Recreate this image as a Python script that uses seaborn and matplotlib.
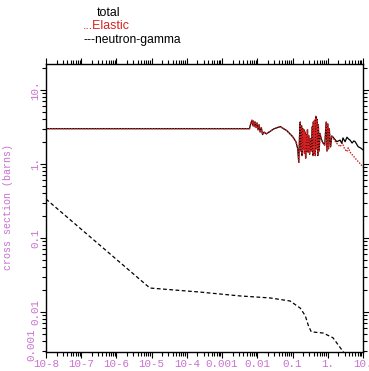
import numpy as np
import pandas as pd
import matplotlib
matplotlib.use("Agg")
import matplotlib.pyplot as plt
import matplotlib.ticker as mticker
import seaborn as sns

# ---------------- data (MeV, barns) ----------------
energy_common = [1e-8, 6.0e-3, 6.5e-3, 7.0e-3, 7.4e-3, 7.8e-3, 8.2e-3, 8.7e-3, 9.2e-3, 9.8e-3,
                 1.05e-2, 1.12e-2, 1.2e-2, 1.3e-2, 1.4e-2, 1.55e-2, 1.8e-2, 3.0e-2, 4.5e-2, 7.0e-2,
                 1.0e-1, 1.25e-1, 1.4e-1, 1.5e-1, 1.58e-1, 1.65e-1, 1.72e-1, 1.8e-1, 1.87e-1, 1.95e-1,
                 2.02e-1, 2.1e-1, 2.18e-1, 2.26e-1, 2.35e-1, 2.45e-1, 2.55e-1, 2.65e-1, 2.75e-1, 2.9e-1,
                 3.05e-1, 3.2e-1, 3.4e-1, 3.6e-1, 3.75e-1, 3.9e-1, 4.05e-1, 4.2e-1, 4.4e-1, 4.6e-1,
                 4.8e-1, 5.0e-1, 5.2e-1, 5.4e-1, 5.7e-1, 6.0e-1, 6.5e-1, 7.0e-1, 7.5e-1, 8.2e-1,
                 9.0e-1, 9.5e-1, 1.0, 1.05, 1.1, 1.2, 1.3]
xs_common = [3.0, 3.0, 3.5, 3.9, 3.3, 3.8, 3.2, 3.7, 3.1, 3.6,
             2.9, 3.4, 2.7, 3.1, 2.5, 2.7, 2.55, 3.0, 3.2, 2.8,
             2.35, 2.0, 1.6, 1.05, 2.4, 3.7, 1.5, 3.3, 1.3, 3.0,
             1.6, 2.9, 1.4, 2.7, 1.2, 2.5, 1.5, 2.9, 1.45, 2.4,
             1.35, 2.2, 1.5, 3.2, 1.3, 3.7, 1.4, 3.9, 1.3, 4.4,
             1.6, 4.0, 1.3, 3.4, 1.5, 2.6, 2.2, 2.0, 1.9, 1.8,
             3.7, 1.5, 3.5, 1.6, 3.0, 1.7, 2.4]

energy_total_hi = [1.42, 1.8, 2.24, 2.5, 2.7, 3.1, 3.5, 3.8, 4.3, 4.9, 5.5, 6.0, 7.3, 8.5, 10.0]
total_hi = [2.3, 2.0, 2.1, 1.9, 2.25, 2.0, 2.3, 2.2, 2.1, 1.92, 2.05, 2.0, 1.71, 1.65, 1.55]

energy_elastic_hi = [1.42, 1.7, 2.24, 2.6, 3.0, 3.5, 3.8, 4.5, 5.2, 6.0, 7.0, 8.5, 10.0]
elastic_hi = [2.25, 1.95, 1.71, 1.92, 1.6, 1.47, 1.65, 1.4, 1.3, 1.2, 1.1, 1.0, 0.91]

energy_ngamma = [1e-8, 8.9e-6, 2.37e-4, 3.2e-3, 2.3e-2, 8.5e-2, 1.65e-1, 2.3e-1, 2.8e-1,
                 3.4e-1, 7.4e-1, 1.4, 2.75, 4.4]
ngamma = [0.336, 0.0211, 0.0186, 0.0165, 0.0155, 0.0141, 0.0113, 0.0089, 0.0066,
          0.0054, 0.0052, 0.0045, 0.0029, 0.0020]

xtick_values = [1e-8, 1e-7, 1e-6, 1e-5, 1e-4, 1e-3, 1e-2, 1e-1, 1.0, 10.0]
xtick_labels = ["10-8", "10-7", "10-6", "10-5", "10-4", "0.001", "0.01", "0.1", "1.", "10."]
ytick_values = [0.01, 0.1, 1.0, 10.0]
ytick_labels = ["0.01", "0.1", "1.", "10."]

# ---------------- figure ----------------
sns.set_style("ticks")
plt.rcParams["font.family"] = ["Liberation Mono", "DejaVu Sans"]

fig = plt.figure(figsize=(3.69, 3.71), dpi=100)
ax = fig.add_axes([46 / 369, 1 - 352 / 371, 317 / 369, 288 / 371])

total_df = pd.DataFrame({"E": energy_common + energy_total_hi, "xs": xs_common + total_hi})
elastic_df = pd.DataFrame({"E": energy_common + energy_elastic_hi, "xs": xs_common + elastic_hi})
ng_df = pd.DataFrame({"E": energy_ngamma, "xs": ngamma})

sns.lineplot(data=total_df, x="E", y="xs", ax=ax, color="black", lw=0.9,
             sort=False, estimator=None)
sns.lineplot(data=elastic_df, x="E", y="xs", ax=ax, color="#d42020", lw=1.0,
             linestyle=(0, (1, 1)), sort=False, estimator=None)
sns.lineplot(data=ng_df, x="E", y="xs", ax=ax, color="black", lw=0.9,
             linestyle=(0, (3, 2)), sort=False, estimator=None)

ax.set_xscale("log")
ax.set_yscale("log")
ax.set_xlim(1e-8, 10.0)
ax.set_ylim(10 ** (-2.54), 10 ** 1.351)

label_color = "#c870d0"
ax.xaxis.set_major_locator(mticker.FixedLocator(xtick_values))
ax.xaxis.set_major_formatter(mticker.FixedFormatter(xtick_labels))
ax.xaxis.set_minor_locator(mticker.LogLocator(base=10, subs=np.arange(2, 10), numticks=50))
ax.xaxis.set_minor_formatter(mticker.NullFormatter())
ax.yaxis.set_major_locator(mticker.FixedLocator(ytick_values))
ax.yaxis.set_major_formatter(mticker.FixedFormatter(ytick_labels))
ax.yaxis.set_minor_locator(mticker.LogLocator(base=10, subs=np.arange(2, 10), numticks=50))
ax.yaxis.set_minor_formatter(mticker.NullFormatter())

ax.tick_params(which="both", direction="out", top=True, right=True, color="black", width=0.8)
ax.tick_params(which="major", length=4)
ax.tick_params(which="minor", length=2.8)
ax.tick_params(axis="x", which="major", labelsize=7.8, labelcolor=label_color, pad=1)
ax.tick_params(axis="y", which="major", labelsize=7.8, labelcolor=label_color, pad=4)
for lab in ax.get_yticklabels():
    lab.set_rotation(90)
    lab.set_va("center")
    lab.set_ha("center")

for side in ["left", "right", "top", "bottom"]:
    ax.spines[side].set_visible(True)
    ax.spines[side].set_color("black")
    ax.spines[side].set_linewidth(1.0)

ax.set_xlabel("")
ax.set_ylabel("cross section (barns)", color=label_color, fontsize=7.2)
ax.yaxis.set_label_coords(-33 / 317, 0.503)

# bottom y label shown by the original plotter at the lower edge
fig.text(31 / 369, 1 - 345 / 371, "0.001", rotation=90, ha="center", va="center",
         color=label_color, fontsize=7.8)

# legend texts
leg_font = ["Liberation Sans", "DejaVu Sans"]
fig.text(97 / 369, 1 - 13 / 371, "total", color="black", fontsize=8.9,
         family=leg_font, ha="left", va="center")
fig.text(83 / 369, 1 - 26 / 371, "...Elastic", color="#d42020", fontsize=8.9,
         family=leg_font, ha="left", va="center")
fig.text(83 / 369, 1 - 40 / 371, "---neutron-gamma", color="black", fontsize=8.7,
         family=leg_font, ha="left", va="center")

fig.savefig("out.png", dpi=100)
